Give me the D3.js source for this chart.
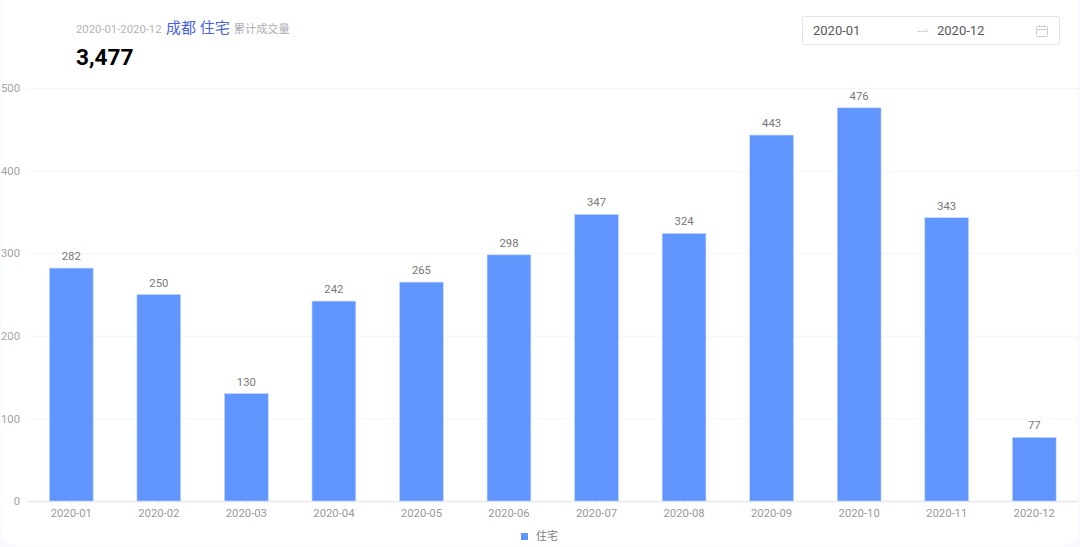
<!DOCTYPE html>
<html>
<head>
<meta charset="utf-8">
<script src="https://cdn.jsdelivr.net/npm/d3@7"></script>
<style>
  html, body { margin: 0; padding: 0; background: #f8faff; }
  svg { display: block; }
  text { font-family: Roboto, "Noto Sans CJK SC", sans-serif; }
</style>
</head>
<body>
<svg id="chart" width="1080" height="547"></svg>
<script>
const months = ["2020-01", "2020-02", "2020-03", "2020-04", "2020-05", "2020-06",
  "2020-07", "2020-08", "2020-09", "2020-10", "2020-11", "2020-12"];
const housing = [282, 250, 130, 242, 265, 298, 347, 324, 443, 476, 343, 77];
const yTicks = [0, 100, 200, 300, 400, 500];
const seriesName = "住宅";

const svg = d3.select("#chart");

// white card on the pale page
svg.append("rect")
  .attr("x", 1).attr("y", -14)
  .attr("width", 1076).attr("height", 559.5)
  .attr("rx", 14)
  .attr("fill", "#fff");

const margin = {left: 27.5, right: 2, top: 88, bottom: 46};
const width = 1080 - margin.left - margin.right;
const height = 547 - margin.top - margin.bottom;

const g = svg.append("g")
  .attr("transform", `translate(${margin.left}, ${margin.top})`);

const xScale = d3.scaleBand()
  .domain(months)
  .range([0, width])
  .paddingInner(0.5)
  .paddingOuter(0.25);

const yScale = d3.scaleLinear()
  .domain([0, 500])
  .range([height, 0]);

// y axis with grid lines
const yAxis = g.append("g")
  .call(d3.axisLeft(yScale).tickValues(yTicks).tickSize(0).tickPadding(7.5));
yAxis.select(".domain").remove();
yAxis.selectAll("text")
  .attr("font-size", 11.3)
  .attr("fill", "#a3a3a3");
yAxis.selectAll(".tick line")
  .attr("x2", width)
  .attr("stroke", d => d === 0 ? "#e8e8ec" : "#f5f5f7")
  .attr("stroke-width", d => d === 0 ? 1.5 : 1);

// x axis
const xAxis = g.append("g")
  .attr("transform", `translate(0, ${height})`)
  .call(d3.axisBottom(xScale).tickSize(3).tickPadding(5));
xAxis.select(".domain").remove();
xAxis.selectAll(".tick line").attr("stroke", "#e8e8ec");
xAxis.selectAll("text")
  .attr("font-size", 11.3)
  .attr("fill", "#999");

g.selectAll(".bar")
  .data(housing)
  .enter().append("rect")
  .attr("class", "bar")
  .attr("x", (d, i) => xScale(months[i]))
  .attr("y", d => yScale(d))
  .attr("width", xScale.bandwidth())
  .attr("height", d => height - yScale(d))
  .attr("fill", "#5f95fc")
  .attr("stroke", "#c3d7fd")
  .attr("stroke-width", 0.6);

g.selectAll(".value")
  .data(housing)
  .enter().append("text")
  .attr("class", "value")
  .attr("x", (d, i) => xScale(months[i]) + xScale.bandwidth() / 2)
  .attr("y", d => yScale(d) - 8)
  .attr("text-anchor", "middle")
  .attr("font-size", 11.3)
  .attr("fill", "#777")
  .text(d => d);

// legend
svg.append("rect")
  .attr("x", 521).attr("y", 533)
  .attr("width", 7).attr("height", 7)
  .attr("fill", "#5f95fc");
svg.append("text")
  .attr("x", 536).attr("y", 540)
  .attr("font-size", 11)
  .attr("fill", "#808080")
  .text(seriesName);

// header
const title = svg.append("text").attr("x", 76).attr("y", 33);
title.append("tspan").attr("font-size", 11.3).attr("fill", "#b4b4bc").text("2020-01-2020-12");
title.append("tspan").attr("dx", 4.5).attr("font-size", 15).attr("fill", "#4a63dc").text("成都 住宅");
title.append("tspan").attr("dx", 4).attr("font-size", 11.2).attr("fill", "#adadb5").text("累计成交量");

svg.append("text")
  .attr("x", 76).attr("y", 65)
  .attr("font-size", 22.6)
  .attr("font-weight", 700)
  .attr("fill", "#000")
  .text(d3.format(",")(d3.sum(housing)));

// date range box
svg.append("rect")
  .attr("x", 802.5).attr("y", 16.5)
  .attr("width", 257).attr("height", 28)
  .attr("rx", 2)
  .attr("fill", "#fff")
  .attr("stroke", "#e4e4e4");
svg.append("text").attr("x", 813).attr("y", 35)
  .attr("font-size", 13).attr("fill", "#595959").text("2020-01");
svg.append("text").attr("x", 937).attr("y", 35)
  .attr("font-size", 13).attr("fill", "#595959").text("2020-12");
svg.append("path")
  .attr("d", "M917 31.5H928L925 29")
  .attr("fill", "none").attr("stroke", "#d4d4d4");
const cal = svg.append("g")
  .attr("fill", "none").attr("stroke", "#d0d0d0");
cal.append("rect").attr("x", 1036.5).attr("y", 26.5).attr("width", 11).attr("height", 10).attr("rx", 1);
cal.append("path").attr("d", "M1036.5 29.5H1047.5M1039.5 25V27.5M1044.5 25V27.5");
</script>
</body>
</html>
